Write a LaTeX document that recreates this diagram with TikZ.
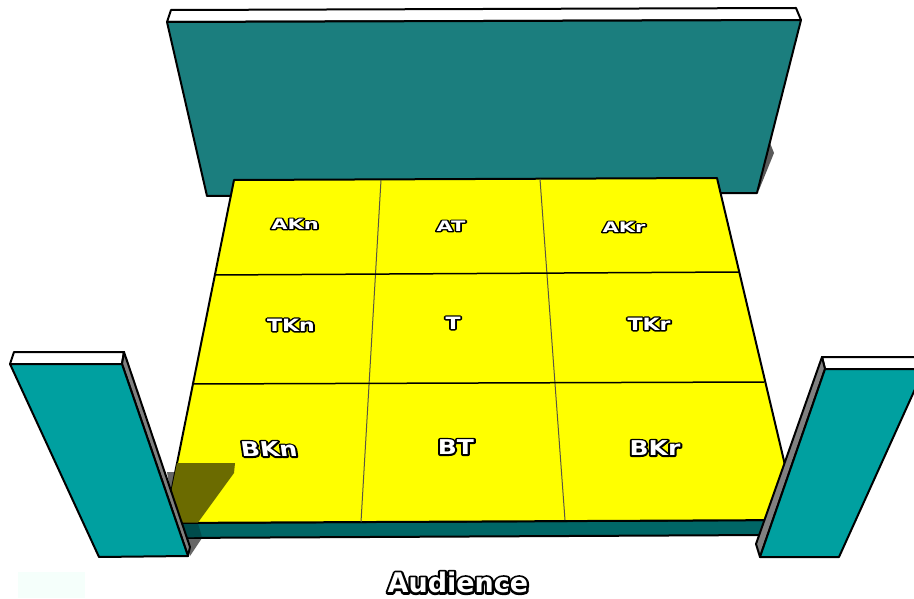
\documentclass[tikz,border=0pt]{standalone}
\usepackage{fontspec}
\setmainfont{DejaVu Sans}[BoldFont={DejaVu Sans Bold}]
\definecolor{wallteal}{HTML}{1B7E7E}
\definecolor{pillarteal}{HTML}{00A0A0}
\definecolor{edgeteal}{HTML}{006666}
\definecolor{edgeshade}{HTML}{004C4C}
\definecolor{stageyellow}{HTML}{FFFF00}
\definecolor{shadeolive}{HTML}{6B6B00}
\definecolor{sidegrey}{HTML}{808080}
\definecolor{patch}{HTML}{F5FFFB}
\newcommand{\outlinedtext}[2]{%
  \leavevmode\rlap{\special{pdf:code q 1 Tr #1 w 0 0 0 RG 1 J 1 j}\textcolor{black}{#2}\special{pdf:code 0 Tr Q}}%
  \textcolor{white}{#2}}
\tikzset{
  x=1pt,y=-1pt,
  solid edge/.style={draw=black,line width=2pt,line join=round},
  thin div/.style={draw=black!75!yellow,line width=1pt},
  mid div/.style={draw=black,line width=1.5pt},
  seat/.style={inner sep=0pt,font=\bfseries\fontsize{20}{20}\selectfont,transform shape},
}
\begin{document}
\begin{tikzpicture}
\useasboundingbox (0,0) rectangle (914,599);
\fill[white] (0,0) rectangle (914,599);
\fill[patch] (18,572) rectangle (85,598);
% back wall shadow
\fill[sidegrey!70!black] (770,143) -- (774,153) -- (759,190) -- (757,170) -- cycle;
% back wall
\filldraw[fill=white,solid edge] (171,10) -- (796,8) -- (801,20) -- (167,22) -- cycle;
\filldraw[fill=wallteal,solid edge] (167,22) -- (801,20) -- (757,193) -- (207,196) -- cycle;
% stage shadows on ground
\fill[sidegrey!80!black] (167,472) -- (178,472) -- (178,490) -- (170,490) -- cycle;
\fill[sidegrey!80!black] (188,538) -- (202,538) -- (190,556) -- cycle;
% stage front
\filldraw[fill=edgeteal,solid edge] (165,523) -- (768,520) -- (768,535) -- (170,538) -- cycle;
\fill[edgeshade] (183,523.5) -- (198,523.5) -- (202,537) -- (186,537.5) -- cycle;
% stage top
\filldraw[fill=stageyellow,solid edge] (234,180) -- (717,178) -- (798,520) -- (165,523) -- cycle;
\fill[shadeolive] (177,463) -- (235,463) -- (234,473) -- (198,522.5) -- (165,522.5) -- cycle;
\draw[thin div] (381,180) -- (361,522);
\draw[thin div] (540,179) -- (565,520);
\draw[mid div] (214.5,275) -- (739,272);
\draw[mid div] (192,384) -- (764,382);
% left pillar
\filldraw[fill=white,solid edge] (14,352) -- (124,352) -- (122,364) -- (10,364) -- cycle;
\filldraw[fill=sidegrey,solid edge] (124,352) -- (190,547) -- (188,556) -- (122,364) -- cycle;
\filldraw[fill=pillarteal,solid edge] (10,364) -- (122,364) -- (188,556) -- (99,557) -- cycle;
% right pillar
\filldraw[fill=white,solid edge] (822,357) -- (916,357) -- (916,369) -- (825,369) -- cycle;
\filldraw[fill=sidegrey,solid edge] (822,357) -- (825,369) -- (760,557) -- (756,544) -- cycle;
\filldraw[fill=pillarteal,solid edge] (825,369) -- (916,369) -- (916,387) -- (839,557) -- (760,557) -- cycle;
% labels
\node[seat,xscale=1.05,yscale=.72] (akn) at (295,224) {\outlinedtext{3.2}{AKn}};
\node[seat,xscale=1.05,yscale=.72] (at) at (451,226) {\outlinedtext{3.2}{AT}};
\node[seat,xscale=1.05,yscale=.72] (akr) at (624,227) {\outlinedtext{3.2}{AKr}};
\node[seat,xscale=1.1,yscale=.85] (tkn) at (291,325) {\outlinedtext{3.2}{TKn}};
\node[seat,xscale=1.1,yscale=.85] (t) at (453,323) {\outlinedtext{3.2}{T}};
\node[seat,xscale=1.1,yscale=.85] (tkr) at (649,324) {\outlinedtext{3.2}{TKr}};
\node[seat,xscale=1.25,yscale=1.02,xslant=-.12] (bkn) at (269,449) {\outlinedtext{3.2}{BKn}};
\node[seat,xscale=1.25,yscale=1.02] (bt) at (456,447) {\outlinedtext{3.2}{BT}};
\node[seat,xscale=1.25,yscale=1.02] (bkr) at (655,448) {\outlinedtext{3.2}{BKr}};
\node[inner sep=0pt,font=\bfseries\fontsize{27}{27}\selectfont] (aud) at (458,582.5) {\outlinedtext{4.5}{Audience}};
\end{tikzpicture}
\end{document}
